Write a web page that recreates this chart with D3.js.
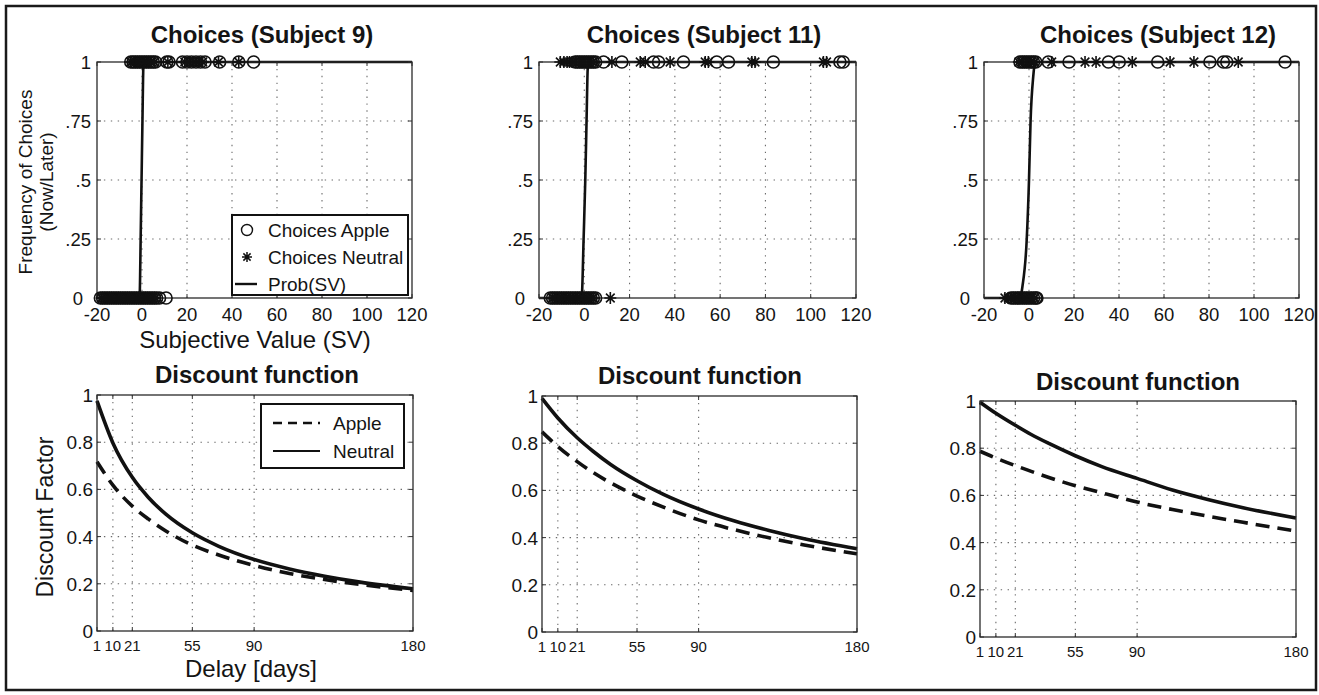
<!DOCTYPE html>
<html><head><meta charset="utf-8">
<script src="https://cdn.jsdelivr.net/npm/d3@7"></script>
<style>
body{margin:0;background:#fff}
svg{display:block}
text{font-family:"Liberation Sans",Arial,sans-serif;fill:#141414}
</style>
</head><body>
<svg id="c" width="1319" height="695"></svg>
<script>
// ---------- DATA ----------
const svTicks = [-20, 0, 20, 40, 60, 80, 100, 120];
const freqTicks = [0, 0.25, 0.5, 0.75, 1];
const freqTickLabels = ["0", ".25", ".5", ".75", "1"];
const delayTicks = [1, 10, 21, 55, 90, 180];
const factorTicks = [0, 0.2, 0.4, 0.6, 0.8, 1];
const factorTickLabels = ["0", "0.2", "0.4", "0.6", "0.8", "1"];
const topTitles = ["Choices (Subject 9)", "Choices (Subject 11)", "Choices (Subject 12)"];
const bottomTitles = ["Discount function", "Discount function", "Discount function"];
const choiceLegend = ["Choices Apple", "Choices Neutral", "Prob(SV)"];
const discountLegend = ["Apple", "Neutral"];

// Subject 9 choices (SV where "later" chosen = 1, "now" chosen = 0)
const s9AppleLater = [-5, -4, -3, -2, -1, 0, 1, 2, 3, 4, 5, 6, 11, 12, 18, 20, 22, 24, 26, 28, 34.5, 43, 49.6];
const s9NeutralLater = [-5, -3.5, -2, -0.5, 1, 2.5, 4, 5.5, 11.5, 19, 21, 23, 25, 27, 34, 43];
const s9AppleNow = [-18.5, -17.5, -16.5, -15.5, -14.5, -13.5, -12.5, -11.5, -10.5, -9.5, -8.5, -7.5, -6.5, -5.5, -4.5, -3.5, -2.5, -1.5, -0.5, 0.5, 1.5, 2.5, 3.5, 4.5, 5.5, 6.5, 7.8, 10.7];
const s9NeutralNow = [-18, -17, -16, -15, -14, -13, -12, -11, -10, -9, -8, -7, -6, -5, -4, -3, -2, -1, 0, 1, 2, 3, 4, 5, 6];
const s9ProbSV = [-20, -1.2, -1.0, -0.6, -0.2, 0.2, 0.6, 0.8, 120];
const s9ProbP  = [0, 0, 0.02, 0.25, 0.5, 0.75, 0.98, 1, 1];

// Subject 11
const s11AppleLater = [-4, -3, -2, -1, 0, 1, 2, 3, 4, 5, 8.5, 16.6, 30.6, 32.8, 43.8, 58.5, 63.7, 83.5, 112.9, 114.4];
const s11NeutralLater = [-10.6, -9, -7.6, -6.5, -5.4, -4, -2, 0, 2, 4, 12.2, 24.7, 26.9, 37.9, 53.4, 54.8, 74, 75.4, 105.6, 107];
const s11AppleNow = [-15, -14, -13, -12, -11, -10, -9, -8, -7, -6, -5, -4, -3, -2, -1, 0, 1, 2, 3, 4, 5];
const s11NeutralNow = [-14, -12.5, -11, -9.5, -8, -6.5, -5, -3.5, -2, -0.5, 1, 2.5, 4, 11.5];
const s11ProbSV = [-20, -1.2, -1.0, -0.3, 0.44, 1.0, 1.5, 1.8, 120];
const s11ProbP  = [0, 0, 0.02, 0.25, 0.5, 0.75, 0.97, 1, 1];

// Subject 12
const s12AppleLater = [-4, -3, -2, -1, 0, 1, 2, 3, 8.6, 17.8, 35.3, 40.1, 57.2, 80.4, 86.4, 87.9, 113.8];
const s12NeutralLater = [-4.5, -3, -1, 1, 2.5, 10.1, 24.9, 29.8, 45.9, 62.7, 73.3, 93];
const s12AppleNow = [-8, -7, -6, -5, -4, -3, -2, -1, 0, 1, 2, 3, 3.5];
const s12NeutralNow = [-10.7, -9.2, -8, -6.5, -5, -3.5, -2, -0.5, 1, 2.5];
const s12ProbSV = [-20, -4, -3.6, -2.9, -1.0, 0, 0.7, 1.9, 2.5, 3.2, 120];
const s12ProbP  = [0, 0, 0.01, 0.05, 0.25, 0.5, 0.75, 0.94, 0.99, 1, 1];

// Discount functions
const delayDays = [1, 10, 21, 30, 40, 55, 70, 90, 110, 130, 150, 180];
const s9DiscApple    = [0.717, 0.618, 0.529, 0.475, 0.424, 0.364, 0.322, 0.278, 0.244, 0.218, 0.197, 0.172];
const s9DiscNeutral  = [0.975, 0.797, 0.651, 0.567, 0.495, 0.416, 0.359, 0.303, 0.263, 0.232, 0.207, 0.179];
const s11DiscApple   = [0.848, 0.786, 0.722, 0.676, 0.632, 0.576, 0.529, 0.475, 0.434, 0.399, 0.369, 0.331];
const s11DiscNeutral = [0.990, 0.907, 0.823, 0.766, 0.710, 0.641, 0.583, 0.521, 0.471, 0.430, 0.395, 0.353];
const s12DiscApple   = [0.787, 0.758, 0.726, 0.702, 0.676, 0.641, 0.611, 0.572, 0.540, 0.512, 0.486, 0.449];
const s12DiscNeutral = [0.995, 0.948, 0.897, 0.858, 0.820, 0.768, 0.722, 0.672, 0.623, 0.583, 0.548, 0.504];

// ---------- LAYOUT ----------
const topPanels = [
  {x0: 97,  x1: 412,  y0: 62, y1: 298, tx: 262,  al: s9AppleLater,  nl: s9NeutralLater,  an: s9AppleNow,  nn: s9NeutralNow,  px: s9ProbSV,  pp: s9ProbP,  title: topTitles[0]},
  {x0: 539, x1: 856,  y0: 62, y1: 298, tx: 704,  al: s11AppleLater, nl: s11NeutralLater, an: s11AppleNow, nn: s11NeutralNow, px: s11ProbSV, pp: s11ProbP, title: topTitles[1]},
  {x0: 984, x1: 1299, y0: 62, y1: 298, tx: 1158, al: s12AppleLater, nl: s12NeutralLater, an: s12AppleNow, nn: s12NeutralNow, px: s12ProbSV, pp: s12ProbP, title: topTitles[2]}
];
const botPanels = [
  {x0: 97,  x1: 413,  y0: 395, y1: 631, tx: 257,  ty: 383, apple: s9DiscApple,  neutral: s9DiscNeutral,  title: bottomTitles[0]},
  {x0: 542, x1: 857,  y0: 396, y1: 632, tx: 700,  ty: 384, apple: s11DiscApple, neutral: s11DiscNeutral, title: bottomTitles[1]},
  {x0: 980, x1: 1296, y0: 401, y1: 637, tx: 1138, ty: 390, apple: s12DiscApple, neutral: s12DiscNeutral, title: bottomTitles[2]}
];

const svg = d3.select("#c");
const INK = "#111";
const GRID = "#6a6a6a";

// outer frame
svg.append("rect").attr("x", 6).attr("y", 6).attr("width", 1310).attr("height", 684)
  .attr("fill", "none").attr("stroke", "#1a1a1a").attr("stroke-width", 2.5);

function asteriskPath(s) {
  const d = s * 0.72;
  return `M${-s},0L${s},0M0,${-s}L0,${s}M${-d},${-d}L${d},${d}M${-d},${d}L${d},${-d}`;
}

function drawFrame(g, x, y, xTicks, yTicks) {
  g.selectAll(".gx").data(xTicks.slice(1, -1)).join("line")
    .attr("x1", d => x(d)).attr("x2", d => x(d)).attr("y1", y.range()[0]).attr("y2", y.range()[1])
    .attr("stroke", GRID).attr("stroke-width", 1.1).attr("stroke-dasharray", "1.4,5.5");
  g.selectAll(".gy").data(yTicks.slice(1, -1)).join("line")
    .attr("y1", d => y(d)).attr("y2", d => y(d)).attr("x1", x.range()[0]).attr("x2", x.range()[1])
    .attr("stroke", GRID).attr("stroke-width", 1.1).attr("stroke-dasharray", "1.4,5.5");
}

function drawBox(g, x, y, xTicks, yTicks) {
  const [xa, xb] = x.range(), [ya, yb] = y.range();
  const tk = 4;
  xTicks.forEach(t => {
    g.append("line").attr("x1", x(t)).attr("x2", x(t)).attr("y1", ya).attr("y2", ya - tk).attr("stroke", "#333").attr("stroke-width", 1);
    g.append("line").attr("x1", x(t)).attr("x2", x(t)).attr("y1", yb).attr("y2", yb + tk).attr("stroke", "#333").attr("stroke-width", 1);
  });
  yTicks.forEach(t => {
    g.append("line").attr("y1", y(t)).attr("y2", y(t)).attr("x1", xa).attr("x2", xa + tk).attr("stroke", "#333").attr("stroke-width", 1);
    g.append("line").attr("y1", y(t)).attr("y2", y(t)).attr("x1", xb).attr("x2", xb - tk).attr("stroke", "#333").attr("stroke-width", 1);
  });
  g.append("rect").attr("x", xa).attr("y", yb).attr("width", xb - xa).attr("height", ya - yb)
    .attr("fill", "none").attr("stroke", "#2a2a2a").attr("stroke-width", 1.3);
}

// ---------- TOP PANELS ----------
topPanels.forEach((p, i) => {
  const g = svg.append("g");
  const x = d3.scaleLinear().domain([-20, 120]).range([p.x0, p.x1]);
  const y = d3.scaleLinear().domain([0, 1]).range([p.y1, p.y0]);
  drawFrame(g, x, y, svTicks, freqTicks);

  const pts = p.px.map((v, k) => [v, p.pp[k]]);
  g.append("path").datum(pts)
    .attr("d", d3.line().x(d => x(d[0])).y(d => y(d[1])).curve(d3.curveMonotoneX))
    .attr("fill", "none").attr("stroke", INK).attr("stroke-width", 2.6);

  drawBox(g, x, y, svTicks, freqTicks);

  const circ = (arr, val) => g.append("g").selectAll("circle").data(arr).join("circle")
    .attr("cx", d => x(d)).attr("cy", y(val)).attr("r", 6)
    .attr("fill", "none").attr("stroke", INK).attr("stroke-width", 1.6);
  const ast = (arr, val) => g.append("g").selectAll("path").data(arr).join("path")
    .attr("transform", d => `translate(${x(d)},${y(val)})`).attr("d", asteriskPath(6))
    .attr("fill", "none").attr("stroke", INK).attr("stroke-width", 1.6);
  circ(p.an, 0); ast(p.nn, 0);
  circ(p.al, 1); ast(p.nl, 1);

  g.selectAll(".xt").data(svTicks).join("text")
    .attr("x", d => x(d)).attr("y", p.y1 + 23).attr("text-anchor", "middle")
    .attr("font-size", 18.5).text(d => d);
  g.selectAll(".yt").data(freqTicks).join("text")
    .attr("x", d => p.x0 - (d === 0 ? 14 : 6)).attr("y", d => y(d) + 6.5).attr("text-anchor", "end")
    .attr("font-size", 18.5).text((d, k) => freqTickLabels[k]);

  g.append("text").attr("x", p.tx).attr("y", 43).attr("text-anchor", "middle")
    .attr("font-size", 24).attr("font-weight", "bold").text(p.title);

  if (i === 0) {
    g.append("text").attr("x", 255).attr("y", 348).attr("text-anchor", "middle")
      .attr("font-size", 24).text("Subjective Value (SV)");
    g.append("text").attr("transform", "translate(32,182) rotate(-90)").attr("text-anchor", "middle")
      .attr("font-size", 19).text("Frequency of Choices");
    g.append("text").attr("transform", "translate(53,182) rotate(-90)").attr("text-anchor", "middle")
      .attr("font-size", 19).text("(Now/Later)");

    const lg = g.append("g");
    lg.append("rect").attr("x", 232).attr("y", 215).attr("width", 176).attr("height", 80)
      .attr("fill", "#fff").attr("stroke", INK).attr("stroke-width", 2);
    const ly = [230, 257, 284];
    lg.append("circle").attr("cx", 247).attr("cy", ly[0]).attr("r", 5.5)
      .attr("fill", "none").attr("stroke", INK).attr("stroke-width", 1.4);
    lg.append("path").attr("transform", `translate(247,${ly[1]})`).attr("d", asteriskPath(5))
      .attr("fill", "none").attr("stroke", INK).attr("stroke-width", 1.5);
    lg.append("line").attr("x1", 235).attr("x2", 257).attr("y1", ly[2]).attr("y2", ly[2])
      .attr("stroke", INK).attr("stroke-width", 2.4);
    choiceLegend.forEach((t, k) => lg.append("text").attr("x", 268).attr("y", ly[k] + 7)
      .attr("font-size", 19).text(t));
  }
});

// ---------- BOTTOM PANELS ----------
botPanels.forEach((p, i) => {
  const g = svg.append("g");
  const x = d3.scaleLinear().domain([1, 180]).range([p.x0, p.x1]);
  const y = d3.scaleLinear().domain([0, 1]).range([p.y1, p.y0]);
  drawFrame(g, x, y, delayTicks, factorTicks);

  const line = d3.line().x(d => x(d[0])).y(d => y(d[1])).curve(d3.curveMonotoneX);
  g.append("path").datum(delayDays.map((d, k) => [d, p.apple[k]]))
    .attr("d", line).attr("fill", "none").attr("stroke", INK).attr("stroke-width", 3.6)
    .attr("stroke-dasharray", "14,8");
  g.append("path").datum(delayDays.map((d, k) => [d, p.neutral[k]]))
    .attr("d", line).attr("fill", "none").attr("stroke", INK).attr("stroke-width", 3.6);

  drawBox(g, x, y, delayTicks, factorTicks);

  g.selectAll(".xt").data(delayTicks).join("text")
    .attr("x", d => x(d)).attr("y", p.y1 + 20).attr("text-anchor", "middle")
    .attr("font-size", 15).text(d => d);
  g.selectAll(".yt").data(factorTicks).join("text")
    .attr("x", p.x0 - 4).attr("y", d => y(d) + 7).attr("text-anchor", "end")
    .attr("font-size", 19).text((d, k) => factorTickLabels[k]);

  g.append("text").attr("x", p.tx).attr("y", p.ty).attr("text-anchor", "middle")
    .attr("font-size", 24).attr("font-weight", "bold").text(p.title);

  if (i === 0) {
    g.append("text").attr("x", 251).attr("y", 677).attr("text-anchor", "middle")
      .attr("font-size", 24).text("Delay [days]");
    g.append("text").attr("transform", "translate(53,517) rotate(-90)").attr("text-anchor", "middle")
      .attr("font-size", 23).text("Discount Factor");

    const lg = g.append("g");
    lg.append("rect").attr("x", 261).attr("y", 404).attr("width", 143).attr("height", 64)
      .attr("fill", "#fff").attr("stroke", INK).attr("stroke-width", 2);
    lg.append("line").attr("x1", 273).attr("x2", 320).attr("y1", 423).attr("y2", 423)
      .attr("stroke", INK).attr("stroke-width", 2.6).attr("stroke-dasharray", "9,6");
    lg.append("line").attr("x1", 273).attr("x2", 320).attr("y1", 451).attr("y2", 451)
      .attr("stroke", INK).attr("stroke-width", 2.2);
    lg.append("text").attr("x", 333).attr("y", 430).attr("font-size", 19).text(discountLegend[0]);
    lg.append("text").attr("x", 333).attr("y", 458).attr("font-size", 19).text(discountLegend[1]);
  }
});
</script>
</body></html>
